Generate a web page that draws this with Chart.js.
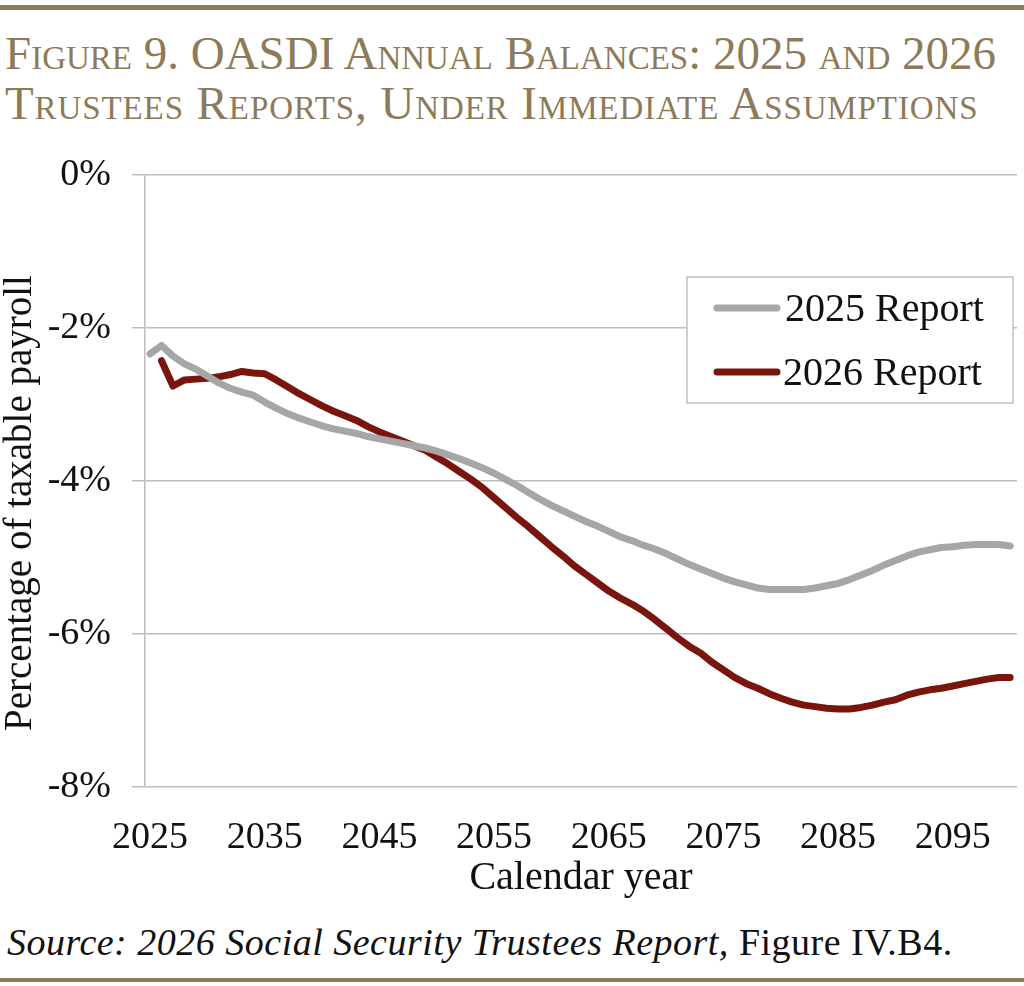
<!DOCTYPE html>
<html lang="en">
<head>
    <meta charset="UTF-8">
    <title>OASDI Annual Balances</title>
    <script src="https://cdn.jsdelivr.net/npm/chart.js"></script>
    <style>
        body { margin: 0; background: #fff; width: 1024px; height: 986px; position: relative; overflow: hidden; }
        .rule { position: absolute; left: 0; width: 1024px; background: #8c7b5c; }
        .title {
            position: absolute; left: 5px; top: 28px; width: 1019px;
            font-family: "Liberation Serif", serif; font-size: 47px; line-height: 50px;
            font-variant: small-caps; color: #8c7a58; white-space: nowrap;
        }
        .title span { display: block; }
        .source {
            position: absolute; left: 7px; top: 920px; letter-spacing: 0.5px;
            font-family: "Liberation Serif", serif; font-size: 38px; color: #111;
            white-space: nowrap;
        }
        #wrap { position: absolute; left: 0; top: 131px; width: 1024px; height: 771px; }
    </style>
</head>
<body>
    <div class="rule" style="top:5px;height:5px"></div>
    <div class="title">
        <span>Figure 9. OASDI Annual Balances: 2025 and 2026</span>
        <span style="letter-spacing:0.9px">Trustees Reports, Under Immediate Assumptions</span>
    </div>
    <div id="wrap"><canvas id="myChart"></canvas></div>
    <div class="source"><i>Source: 2026 Social Security Trustees Report,</i> Figure IV.B4.</div>
    <div class="rule" style="top:978px;height:4px"></div>

    <script>
        // Năm (trục x)
        const years2025 = [];
        for (let y = 2025; y <= 2100; y++) years2025.push(y);
        const years2026 = years2025.slice(1);
        const xTicks = [2025, 2035, 2045, 2055, 2065, 2075, 2085, 2095];
        const yTicks = [0, -2, -4, -6, -8];

        // 2025 Report, % of taxable payroll, 2025-2100
        const report2025 = [
            -2.34, -2.23, -2.37, -2.47, -2.54, -2.63, -2.72, -2.79, -2.84, -2.88,
            -2.97, -3.05, -3.12, -3.18, -3.23, -3.28, -3.32, -3.35, -3.38, -3.42,
            -3.45, -3.48, -3.51, -3.54, -3.57, -3.61, -3.66, -3.71, -3.77, -3.83,
            -3.90, -3.98, -4.06, -4.15, -4.24, -4.32, -4.39, -4.46, -4.53, -4.59,
            -4.66, -4.73, -4.78, -4.84, -4.89, -4.95, -5.02, -5.09, -5.15, -5.21,
            -5.27, -5.32, -5.36, -5.40, -5.42, -5.42, -5.42, -5.42, -5.40, -5.37,
            -5.34, -5.29, -5.23, -5.17, -5.10, -5.04, -4.98, -4.93, -4.90, -4.87,
            -4.86, -4.84, -4.83, -4.83, -4.83, -4.85
        ];
        // 2026 Report, 2026-2100
        const report2026 = [
            -2.43, -2.76, -2.68, -2.67, -2.66, -2.64, -2.61, -2.57, -2.59,
            -2.60, -2.68, -2.77, -2.86, -2.94, -3.02, -3.09, -3.15, -3.21, -3.29,
            -3.36, -3.42, -3.48, -3.54, -3.60, -3.69, -3.78, -3.88, -3.98, -4.09,
            -4.22, -4.35, -4.48, -4.60, -4.73, -4.86, -4.98, -5.11, -5.22, -5.33,
            -5.44, -5.53, -5.61, -5.70, -5.81, -5.93, -6.05, -6.16, -6.25, -6.37,
            -6.47, -6.57, -6.65, -6.71, -6.78, -6.84, -6.89, -6.93, -6.95, -6.97,
            -6.98, -6.98, -6.96, -6.93, -6.89, -6.86, -6.80, -6.76, -6.73, -6.71,
            -6.68, -6.65, -6.62, -6.59, -6.57, -6.57
        ];

        const GREY = '#a6a6a6';
        const RED = '#7a150e';
        const FONT = '"Liberation Serif", serif';

        // legend + y title drawn by hand (canvas coords, canvas starts at y=131)
        const extras = {
            id: 'extras',
            afterDraw(chart) {
                const ctx = chart.ctx;
                ctx.save();
                // y title
                ctx.translate(21, 372);
                ctx.rotate(-Math.PI / 2);
                ctx.font = '39px ' + FONT;
                ctx.fillStyle = '#111';
                ctx.textAlign = 'center';
                ctx.textBaseline = 'middle';
                ctx.fillText('Percentage of taxable payroll', 0, 0);
                ctx.restore();

                // legend box
                ctx.save();
                ctx.fillStyle = '#fff';
                ctx.fillRect(687, 146, 326, 126);
                ctx.strokeStyle = '#c0c0c0';
                ctx.lineWidth = 1.5;
                ctx.strokeRect(687, 146, 326, 126);
                ctx.font = '40px ' + FONT;
                ctx.textBaseline = 'middle';
                ctx.fillStyle = '#111';
                chart.data.datasets.forEach((ds, i) => {
                    const y = 177 + i * 64;
                    ctx.strokeStyle = ds.borderColor;
                    ctx.lineWidth = 7;
                    ctx.lineCap = 'round';
                    ctx.beginPath();
                    ctx.moveTo(717, y);
                    ctx.lineTo(777, y);
                    ctx.stroke();
                    ctx.fillText(ds.label, 785 - i * 2, y + 2);
                });
                ctx.restore();
            }
        };

        const ctx = document.getElementById('myChart').getContext('2d');
        const myChart = new Chart(ctx, {
            type: 'line',
            data: {
                datasets: [
                    {
                        label: '2025 Report',
                        data: years2025.map((y, i) => ({ x: y, y: report2025[i] })),
                        borderColor: GREY,
                        borderWidth: 7,
                        pointRadius: 0,
                        tension: 0,
                        borderCapStyle: 'round',
                        borderJoinStyle: 'round'
                    },
                    {
                        label: '2026 Report',
                        data: years2026.map((y, i) => ({ x: y, y: report2026[i] })),
                        borderColor: RED,
                        borderWidth: 7,
                        pointRadius: 0,
                        tension: 0,
                        borderCapStyle: 'round',
                        borderJoinStyle: 'round'
                    }
                ]
            },
            options: {
                responsive: true,
                maintainAspectRatio: false,
                animation: false,
                layout: { padding: { top: 5, right: 7, left: 0, bottom: 0 } },
                plugins: { legend: { display: false }, tooltip: { enabled: false } },
                scales: {
                    x: {
                        type: 'linear',
                        min: 2024.56,
                        max: 2100.6,
                        afterBuildTicks: (s) => { s.ticks = xTicks.map(v => ({ value: v })); },
                        afterFit: (s) => { s.height = 115; },
                        grid: { display: false },
                        border: { display: false },
                        ticks: {
                            color: '#111',
                            font: { family: FONT, size: 38 },
                            padding: 20,
                            maxRotation: 0,
                            callback: (v) => String(v)
                        },
                        title: {
                            display: true,
                            text: 'Calendar year',
                            color: '#111',
                            font: { family: FONT, size: 40 },
                            padding: { top: -4, bottom: 0 }
                        }
                    },
                    y: {
                        min: -8,
                        max: 0,
                        afterBuildTicks: (s) => { s.ticks = yTicks.map(v => ({ value: v })); },
                        afterFit: (s) => { s.width = 145; },
                        grid: { color: '#bdbdbd', lineWidth: 1.5, tickLength: 13 },
                        border: { color: '#bdbdbd', width: 1.5 },
                        ticks: {
                            color: '#111',
                            font: { family: FONT, size: 38 },
                            padding: 21,
                            callback: (v) => v + '%'
                        }
                    }
                }
            },
            plugins: [extras]
        });
    </script>
</body>
</html>
